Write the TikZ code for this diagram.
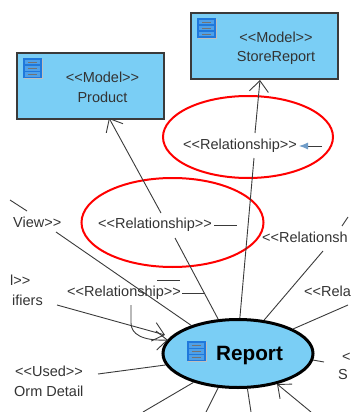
\documentclass[tikz,border=0pt]{standalone}
\usepackage{fontspec}
\setmainfont{Liberation Sans}
\usetikzlibrary{arrows.meta,shapes.geometric}
\definecolor{modelfill}{HTML}{7ACEF5}
\definecolor{iconblue}{HTML}{1F78DC}
\definecolor{iconrow}{HTML}{4FA0E8}
\definecolor{linegray}{HTML}{3A3A3A}
\definecolor{txtgray}{HTML}{333333}
\definecolor{tipblue}{HTML}{6F9CC8}
\tikzset{
  modelbox/.style={draw=linegray,line width=1.1pt,fill=modelfill,minimum width=147pt,minimum height=66pt,inner sep=0pt},
  reportnode/.style={ellipse,draw=black,line width=3pt,fill=modelfill,minimum width=150pt,minimum height=68pt,inner sep=0pt},
  redring/.style={ellipse,draw=red,line width=2pt,inner sep=0pt},
  lbl/.style={inner sep=0pt,text=txtgray,font=\fontsize{14.5}{16}\selectfont,anchor=base west},
  conn/.style={draw=linegray,line width=0.9pt},
  openarrow/.style={conn,-{Straight Barb[length=11pt,width=19pt,line width=0.9pt]}},
}
\newcommand{\dbicon}[1]{%
  \begin{scope}[shift={(#1)}]
    \fill[black!25] (1,1) rectangle (20,21);
    \fill[iconblue] (0,0) rectangle (19,20);
    \foreach \yy in {2,8,14}{
      \fill[iconrow] (2,\yy) rectangle (17,\yy+4.5);
      \draw[black!55,line width=1pt] (5,\yy+2.2) -- (14,\yy+2.2);
    }
  \end{scope}}
\begin{document}
\begin{tikzpicture}[x=1pt,y=-1pt]
\useasboundingbox (0,0) rectangle (351,412);
\clip (0,0) rectangle (351,412);
% coordinates
\coordinate (a1e) at (161,213);
\coordinate (a1s) at (175,238);
\coordinate (a1) at (109,118);
\coordinate (a2e) at (255,133);
\coordinate (a2t) at (260,80);
\coordinate (a2s) at (254,158);
\coordinate (t1) at (10,200);
\coordinate (t2) at (27,211);
\coordinate (v1) at (56,232);
\coordinate (i1) at (57,305);
\coordinate (i2) at (165,335);
\coordinate (u1) at (98,374);
\coordinate (b1) at (143,412);
\coordinate (b2) at (206,412);
\coordinate (b3) at (251,412);
\coordinate (b4) at (311,412);
\coordinate (r1) at (324,362);
\coordinate (r2) at (323,251);
\coordinate (r3) at (348,305);
\coordinate (r4a) at (342,226);
\coordinate (r4b) at (348,217);
\coordinate (s1) at (299,146);
\coordinate (s2) at (322,146);
\coordinate (s3) at (214,225);
\coordinate (s4) at (237,225);
\coordinate (s5) at (182,293);
\coordinate (s6) at (205,293);
\coordinate (s7) at (157,280);
\coordinate (s8) at (180,280);
\coordinate (c1) at (131,305);
\coordinate (c2) at (131,323);
\coordinate (c3) at (168,340);
% red rings
\node[redring,minimum width=170pt,minimum height=82pt] (ring1) at (248,137) {};
\node[redring,minimum width=182pt,minimum height=89pt] (ring2) at (172.5,222.5) {};
% boxes
\node[modelbox] (product) at (90.5,86) {};
\node[modelbox] (store) at (264.5,46) {};
\node[reportnode] (report) at (238,353.5) {};
% box texts
\node[inner sep=0pt,text=txtgray,font=\fontsize{14.5}{16}\selectfont,align=center] (productt) at (102.5,85.5) {\rule{0pt}{14pt}<{}<Model>{}>\\[3.5pt]Product};
\node[inner sep=0pt,text=txtgray,font=\fontsize{14.5}{16}\selectfont,align=center] (storet) at (276,46.5) {\rule{0pt}{14pt}<{}<Model>{}>\\[3.5pt]StoreReport};
\node[inner sep=0pt,font=\bfseries\fontsize{20.7}{24}\selectfont,anchor=base west] (reportt) at (216,360) {Report};
\dbicon{23,58}
\dbicon{197,18}
\dbicon{186.5,341}
% connectors
\draw[openarrow] (a1e) -- (a1);
\draw[conn] (a1s) -- (report.120);
\draw[openarrow] (a2e) -- (a2t);
\draw[conn] (a2s) -- (report.87);
\draw[conn] (t1) -- (t2);
\draw[conn] (v1) -- (report.149);
\draw[openarrow] (i1) -- (i2);
\draw[conn] (u1) -- (report.189);
\draw[conn] (b1) -- (report.213);
\draw[conn] (b2) -- (report.240);
\draw[conn] (b3) -- (report.285);
\draw[openarrow] (b4) -- (report.322);
\draw[conn] (r1) -- (report.355);
\draw[conn] (r2) -- (report.52);
\draw[conn] (r3) -- (report.24);
\draw[conn] (r4a) -- (r4b);
\draw[conn,-{Latex[length=9pt,width=7pt,color=tipblue]}] (s2) -- (s1);
\draw[conn] (s3) -- (s4);
\draw[conn] (s5) -- (s6);
\draw[conn] (s7) -- (s8);
\draw[openarrow] (c1) -- (c2) .. controls (131,334) and (142,341) .. (c3);
% labels
\node[lbl] (l1) at (183,149) {<{}<Relationship>{}>};
\node[lbl] (l2) at (98,228) {<{}<Relationship>{}>};
\node[lbl] (l3) at (67,296) {<{}<Relationship>{}>};
\node[lbl] (l4) at (262,242) {<{}<Relationsh};
\node[lbl] (l5) at (304,296) {<{}<Rela};
\node[lbl] (l6) at (13,227) {View>{}>};
\node[lbl] (l7) at (10,285) {l>{}>};
\node[lbl] (l8) at (12,305) {ifiers};
\node[lbl] (l9) at (15,376) {<{}<Used>{}>};
\node[lbl] (l10) at (14,396) {Orm Detail};
\node[lbl] (l11) at (342,361) {<};
\node[lbl] (l12) at (338,379) {S};
\end{tikzpicture}
\end{document}
